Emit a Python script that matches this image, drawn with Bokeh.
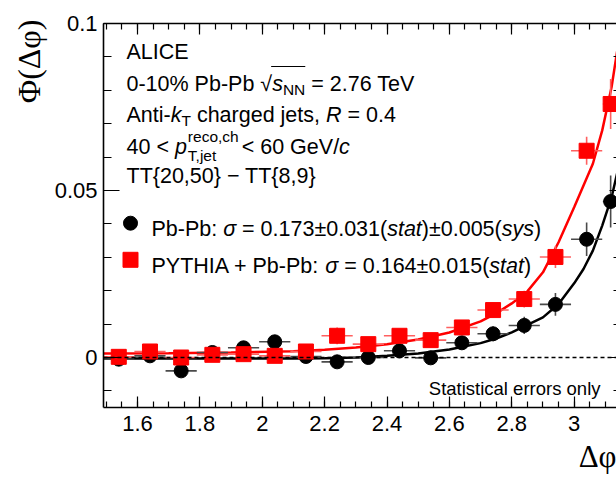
import numpy as np
from bokeh.plotting import figure
from bokeh.models import (Range1d, LinearAxis, FixedTicker, CustomJSTickFormatter, Label,
                          Span, Title)
from bokeh.embed import file_html
from bokeh.resources import INLINE

# ---------------- data ----------------
dphi = [1.54, 1.64, 1.74, 1.84, 1.94, 2.04, 2.14, 2.24, 2.34, 2.44, 2.54,
        2.64, 2.74, 2.84, 2.94, 3.04, 3.117]
dphi_half = [0.05, 0.05, 0.05, 0.05, 0.05, 0.05, 0.05, 0.05, 0.05, 0.05, 0.05,
             0.05, 0.05, 0.05, 0.05, 0.05, 0.025]
pbpb = [-0.0005, 0.0005, -0.0040, 0.0015, 0.0029, 0.0047, 0.0003, -0.0013, 0.0000,
        0.0020, -0.0001, 0.0044, 0.0071, 0.0096, 0.0159, 0.0354, 0.0467]
pbpb_err = [0.0015, 0.0015, 0.0015, 0.0015, 0.0015, 0.0016, 0.0016, 0.0017, 0.0017,
            0.0018, 0.0018, 0.0020, 0.0022, 0.0026, 0.0034, 0.0050, 0.0078]
pythia = [0.0002, 0.0018, 0.0000, 0.0008, 0.0010, 0.0005, 0.0018, 0.0065, 0.0040,
          0.0065, 0.0052, 0.0090, 0.0142, 0.0175, 0.0301, 0.0619, 0.0759]
pythia_err = [0.0012, 0.0012, 0.0012, 0.0012, 0.0012, 0.0013, 0.0013, 0.0025, 0.0015,
              0.0015, 0.0016, 0.0018, 0.0022, 0.0025, 0.0033, 0.0042, 0.0075]

fit_x = [1.49, 1.70, 1.90, 2.10, 2.20, 2.30, 2.40, 2.50, 2.60, 2.70, 2.75, 2.80,
         2.85, 2.90, 2.95, 3.00, 3.03, 3.06, 3.09, 3.12, 3.14]
fit_pbpb = [-0.0003, -0.0003, -0.0003, -0.0003, -0.0002, 0.0000, 0.0005, 0.0012,
            0.0024, 0.0043, 0.0057, 0.0075, 0.0098, 0.0120, 0.0160, 0.0222, 0.0265,
            0.0320, 0.0395, 0.0480, 0.0560]
fit_pythia = [0.0012, 0.0013, 0.0015, 0.0019, 0.0023, 0.0030, 0.0040, 0.0054,
              0.0075, 0.0108, 0.0132, 0.0162, 0.0198, 0.0255, 0.0345, 0.0450, 0.0515,
              0.0580, 0.0680, 0.0810, 0.0930]

x_ticks = [1.6, 1.8, 2.0, 2.2, 2.4, 2.6, 2.8, 3.0]
y_ticks = [0.0, 0.05, 0.1]

# ---------------- layout ----------------
W, H = 616, 477
BL, BT, BB, BR = 103, 23, 70, 0
FW, FH = W - BL - BR, H - BT - BB
X0, X1 = 1.491, 1.491 + FW / 311.9
Y0, Y1 = 0.1 - FH / 3340.0, 0.1
SX = FW / (X1 - X0)
SY = FH / (Y1 - Y0)


def px2x(px):
    return X0 + (px - BL) / SX


def py2y(py):
    return Y1 - (py - BT) / SY


FONT = "Liberation Sans"
SERIF = "Liberation Serif"

p = figure(width=W, height=H, x_range=Range1d(X0, X1), y_range=Range1d(Y0, Y1),
           output_backend="svg", toolbar_location=None,
           min_border_left=BL, min_border_right=BR, min_border_top=BT, min_border_bottom=BB,
           outline_line_color=None, background_fill_color="white", border_fill_color="white")
p.xgrid.visible = False
p.ygrid.visible = False

x_minor = list(np.round(np.arange(1.50, 3.151, 0.05), 3))
y_minor = list(np.round(np.arange(-0.01, 0.1001, 0.01), 3))
fmt = CustomJSTickFormatter(code="return String(Math.round(tick*1000)/1000);")
blank = CustomJSTickFormatter(code="return '';")


def style(ax, ticker, mj, mn, labels=True, line=True):
    ax.ticker = ticker
    ax.major_tick_in = mj
    ax.major_tick_out = 0
    ax.minor_tick_in = mn
    ax.minor_tick_out = 0
    ax.major_tick_line_color = "black"
    ax.minor_tick_line_color = "black"
    ax.major_tick_line_width = 1.2
    ax.minor_tick_line_width = 1.2
    ax.axis_line_color = "black" if line else None
    ax.axis_line_width = 1.6
    if labels:
        ax.formatter = fmt
        ax.major_label_text_font = FONT
        ax.major_label_text_font_size = "22px"
        ax.major_label_text_color = "black"
    else:
        ax.formatter = blank
        ax.major_label_text_font_size = "0px"
        ax.major_label_standoff = 0


xt = FixedTicker(ticks=x_ticks, minor_ticks=x_minor)
yt = FixedTicker(ticks=y_ticks, minor_ticks=y_minor)
style(p.xaxis[0], xt, 11, 6)
p.xaxis[0].major_label_standoff = 8
style(p.yaxis[0], yt, 16, 8)
p.yaxis[0].major_label_standoff = 6

top = LinearAxis()
style(top, FixedTicker(ticks=x_ticks, minor_ticks=x_minor), 11, 6, labels=False)
p.add_layout(top, "above")
right = LinearAxis()
style(right, FixedTicker(ticks=y_ticks, minor_ticks=y_minor), 7, 3, labels=False, line=False)
p.add_layout(right, "right")

# axis titles
p.add_layout(Title(text="\u03a6(\u0394\u03c6)", align="right", text_font=SERIF,
                   text_font_size="32px", text_font_style="normal", text_color="black",
                   standoff=9, offset=-4), "left")
p.add_layout(Title(text="\u0394\u03c6", align="right", text_font=SERIF,
                   text_font_size="31px", text_font_style="normal", text_color="black",
                   standoff=6, offset=0), "below")

# zero line
p.add_layout(Span(location=0, dimension="width", line_color="black", line_width=1.4,
                  line_dash="4 3"))

# fit curves
p.line(fit_x, fit_pbpb, line_color="black", line_width=2.5)
p.line(fit_x, fit_pythia, line_color="#ff0000", line_width=2.5)

x = np.array(dphi)
dx = np.array(dphi_half)
yb, eb = np.array(pbpb), np.array(pbpb_err)
yr, er = np.array(pythia), np.array(pythia_err)

# Pb-Pb error bars + markers
p.segment(x - dx, yb, x + dx, yb, line_color="#4a4a4a", line_width=1.6)
p.segment(x, yb - eb, x, yb + eb, line_color="#4a4a4a", line_width=1.6)
p.scatter(x, yb, marker="circle", size=14, fill_color="black", line_color="black")

# PYTHIA + Pb-Pb error bars + markers
p.segment(x - dx, yr, x + dx, yr, line_color="#ff6060", line_width=1.6)
p.segment(x, yr - er, x, yr + er, line_color="#ff6060", line_width=1.6)
p.scatter(x, yr, marker="square", size=15, fill_color="#ff0000", line_color="#ff0000")

# ---------------- texts ----------------
AW = {' ': 278, '-': 333, '%': 889, '.': 278, ',': 278, ':': 278, '/': 278, '=': 584,
      '<': 584, '+': 584, '(': 333, ')': 333, '{': 334, '}': 334, '\u2212': 584,
      '\u00b1': 549, '\u221a': 549, '\u03c3': 600,
      'A': 667, 'C': 722, 'E': 667, 'G': 778, 'H': 722, 'I': 278, 'L': 556, 'N': 722,
      'P': 667, 'R': 722, 'S': 667, 'T': 611, 'V': 667, 'Y': 667,
      'a': 556, 'b': 556, 'c': 500, 'd': 556, 'e': 556, 'g': 556, 'h': 556, 'i': 222,
      'j': 222, 'k': 500, 'l': 222, 'n': 556, 'o': 556, 'p': 556, 'r': 333, 's': 500,
      't': 278, 'y': 500}


def tw(s, size):
    return sum(AW.get(c, 556) for c in s) * size / 1000.0


def label(xp, yp, text, size, style="normal"):
    p.add_layout(Label(x=px2x(xp), y=py2y(yp), text=text, text_font=FONT,
                       text_font_size=f"{size}px", text_font_style=style,
                       text_align="left", text_baseline="alphabetic",
                       text_color="black"))


def rich(xp, base, segs):
    cur = xp
    pos = []
    for seg in segs:
        text, size, style, dy = seg[:4]
        adv = seg[4] if len(seg) > 4 else None
        stripped = text.lstrip(" ")
        lead = tw(text[:len(text) - len(stripped)], size)
        pos.append(cur)
        label(cur + lead, base + dy, stripped, size, style)
        cur += tw(text, size) if adv is None else adv
    pos.append(cur)
    return pos


F = 21.5
S = 15.5
X_TXT = 126
label(X_TXT, 51.5, "ALICE", F)
pos = rich(X_TXT, 83.5, [("0-10% Pb-Pb ", F, "normal", 0), ("\u221a", F, "normal", 0),
                         ("s", F, "italic", 0), ("NN", S, "normal", 5),
                         (" = 2.76 TeV", F, "normal", 0)])
# overbar of the square root
p.segment([px2x(pos[2] - 1)], [py2y(66)], [px2x(pos[4])], [py2y(66)],
          line_color="black", line_width=1.2)
rich(X_TXT, 114.5, [("Anti-", F, "normal", 0), ("k", F, "italic", 0),
                    ("T", S, "normal", 5), (" charged jets, ", F, "normal", 0),
                    ("R", F, "italic", 0), (" = 0.4", F, "normal", 0)])
rich(X_TXT, 146.5, [("40 < ", F, "normal", 0), ("p", F, "italic", 0, tw("p", F) + 1),
                    ("reco,ch", S, "normal", -11, 0),
                    ("T,jet", S, "normal", 8, tw("reco,ch", S) + 3),
                    ("< 60 GeV/", F, "normal", 0), ("c", F, "italic", 0)])
label(X_TXT, 175, "TT{20,50} \u2212 TT{8,9}", F)

# legend
p.scatter([px2x(130)], [py2y(222.7)], marker="circle", size=14, fill_color="black",
          line_color="black")
p.scatter([px2x(130)], [py2y(259.3)], marker="square", size=15, fill_color="#ff0000",
          line_color="#ff0000")
rich(151, 228.5, [("Pb-Pb: ", F, "normal", 0), ("\u03c3", F, "italic", 0),
                  (" = 0.173\u00b10.031(", F, "normal", 0), ("stat", F, "italic", 0),
                  (")\u00b10.005(", F, "normal", 0), ("sys", F, "italic", 0),
                  (")", F, "normal", 0)])
rich(151, 265, [("PYTHIA + Pb-Pb: ", F, "normal", 0), ("\u03c3", F, "italic", 0),
                (" = 0.164\u00b10.015(", F, "normal", 0), ("stat", F, "italic", 0),
                (")", F, "normal", 0)])

label(428.3, 388.3, "Statistical errors only", 18.5)

open("out.html", "w").write(file_html(p, INLINE))
